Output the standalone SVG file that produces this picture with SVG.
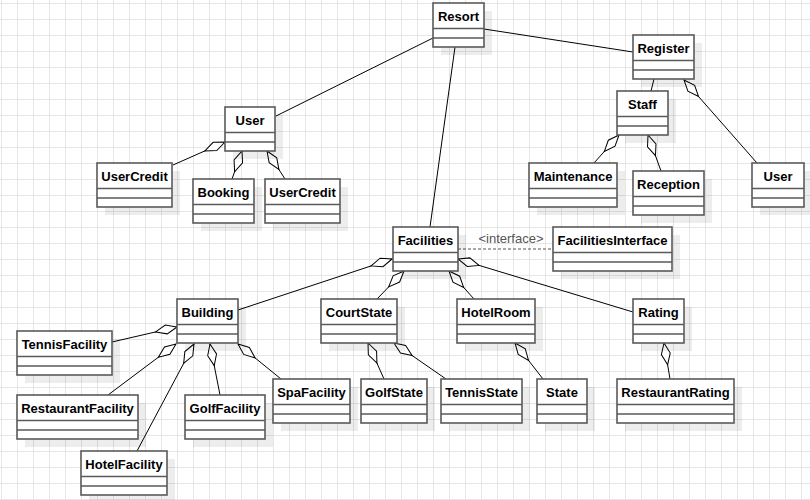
<svg xmlns="http://www.w3.org/2000/svg" width="810" height="500" viewBox="0 0 810 500">
<style>
.sh{fill:#000;opacity:0.07}
.box{fill:#fff;stroke:#5a5a5a;stroke-width:1.6}
.div{stroke:#5a5a5a;stroke-width:1.6}
.t{font-family:"Liberation Sans",Arial,sans-serif;font-size:13px;font-weight:bold;fill:#000;text-anchor:middle}
.c{fill:none;stroke:#000;stroke-width:1}
.agg{fill:none;stroke:#000;stroke-width:1;marker-start:url(#dia)}
.dash{fill:none;stroke:#555;stroke-width:1.2;stroke-dasharray:3,2}
.lbl{font-family:"Liberation Sans",Arial,sans-serif;font-size:13px;fill:#555;text-anchor:middle}
</style>
<defs>
<pattern id="grid" patternUnits="userSpaceOnUse" x="1" y="3" width="16" height="16">
<path d="M0.5,0V16M0,0.5H16" stroke="#e6e6e6" stroke-width="1" fill="none"/>
</pattern>
<marker id="dia" markerUnits="userSpaceOnUse" markerWidth="24" markerHeight="12" refX="0" refY="6" orient="auto" overflow="visible">
<path d="M0,6 L11,1.5 L22,6 L11,10.5 Z" fill="#fff" stroke="#000" stroke-width="1"/>
</marker>
</defs>
<rect width="810" height="500" fill="#fff"/>
<rect width="810" height="500" fill="url(#grid)"/>

<g id="connectors">
<path class="c" d="M433,38 L276,116"/>
<path class="c" d="M484,29 L633,52"/>
<path class="c" d="M455,47 L430,227"/>
<path class="c" d="M654,79 L651,91"/>
<path class="agg" d="M684,80 L757,163"/>
<path class="agg" d="M619,135 L594,163"/>
<path class="agg" d="M648,135 L661,171"/>
<path class="agg" d="M225,142 L173,165"/>
<path class="agg" d="M242,151 L232,179"/>
<path class="agg" d="M267,151 L285,179"/>
<path class="agg" d="M392,259 L238,310"/>
<path class="agg" d="M404,271 L377,299"/>
<path class="agg" d="M449,271 L474,299"/>
<path class="agg" d="M458,259 L633,312"/>
<path class="agg" d="M177,327 L112,342"/>
<path class="agg" d="M176,344 L108,395"/>
<path class="agg" d="M194,344 L137,451"/>
<path class="agg" d="M210,344 L220,395"/>
<path class="agg" d="M238,344 L281,379"/>
<path class="agg" d="M368,343 L384,379"/>
<path class="agg" d="M394,343 L446,379"/>
<path class="agg" d="M515,343 L543,379"/>
<path class="agg" d="M664,343 L670,379"/>
<path class="dash" d="M458,249 L553,249"/>
<text class="lbl" x="511" y="243">&lt;interface&gt;</text>
</g>

<g id="Resort"><rect class="sh" x="441" y="11" width="51" height="44"/><rect class="box" x="433" y="3" width="51" height="44"/><path class="div" d="M433,28.5H484M433,38H484"/><text class="t" x="458.5" y="20.5">Resort</text></g>
<g id="Register"><rect class="sh" x="641" y="43" width="61" height="44"/><rect class="box" x="633" y="35" width="61" height="44"/><path class="div" d="M633,60.5H694M633,70H694"/><text class="t" x="663.5" y="52.5">Register</text></g>
<g id="Staff"><rect class="sh" x="625" y="99" width="51" height="44"/><rect class="box" x="617" y="91" width="51" height="44"/><path class="div" d="M617,116.5H668M617,126H668"/><text class="t" x="642.5" y="108.5">Staff</text></g>
<g id="Maintenance"><rect class="sh" x="537" y="171" width="88" height="44"/><rect class="box" x="529" y="163" width="88" height="44"/><path class="div" d="M529,188.5H617M529,198H617"/><text class="t" x="573" y="180.5">Maintenance</text></g>
<g id="Reception"><rect class="sh" x="641" y="179" width="71" height="44"/><rect class="box" x="633" y="171" width="71" height="44"/><path class="div" d="M633,196.5H704M633,206H704"/><text class="t" x="668.5" y="188.5">Reception</text></g>
<g id="UserRight"><rect class="sh" x="760" y="171" width="52" height="44"/><rect class="box" x="752" y="163" width="52" height="44"/><path class="div" d="M752,188.5H804M752,198H804"/><text class="t" x="778" y="180.5">User</text></g>
<g id="User"><rect class="sh" x="233" y="115" width="50" height="44"/><rect class="box" x="225" y="107" width="50" height="44"/><path class="div" d="M225,132.5H275M225,142H275"/><text class="t" x="250" y="124.5">User</text></g>
<g id="UserCredit1"><rect class="sh" x="105" y="171" width="75" height="44"/><rect class="box" x="97" y="163" width="75" height="44"/><path class="div" d="M97,188.5H172M97,198H172"/><text class="t" x="134.5" y="180.5">UserCredit</text></g>
<g id="Booking"><rect class="sh" x="201" y="187" width="61" height="44"/><rect class="box" x="193" y="179" width="61" height="44"/><path class="div" d="M193,204.5H254M193,214H254"/><text class="t" x="223.5" y="196.5">Booking</text></g>
<g id="UserCredit2"><rect class="sh" x="273" y="187" width="75" height="44"/><rect class="box" x="265" y="179" width="75" height="44"/><path class="div" d="M265,204.5H340M265,214H340"/><text class="t" x="302.5" y="196.5">UserCredit</text></g>
<g id="Facilities"><rect class="sh" x="401" y="235" width="65" height="44"/><rect class="box" x="393" y="227" width="65" height="44"/><path class="div" d="M393,252.5H458M393,262H458"/><text class="t" x="425.5" y="244.5">Facilities</text></g>
<g id="FacilitiesInterface"><rect class="sh" x="561" y="235" width="119" height="44"/><rect class="box" x="553" y="227" width="119" height="44"/><path class="div" d="M553,252.5H672M553,262H672"/><text class="t" x="612.5" y="244.5">FacilitiesInterface</text></g>
<g id="Building"><rect class="sh" x="185" y="307" width="61" height="44"/><rect class="box" x="177" y="299" width="61" height="44"/><path class="div" d="M177,324.5H238M177,334H238"/><text class="t" x="207.5" y="316.5">Building</text></g>
<g id="CourtState"><rect class="sh" x="329" y="307" width="76" height="44"/><rect class="box" x="321" y="299" width="76" height="44"/><path class="div" d="M321,324.5H397M321,334H397"/><text class="t" x="359" y="316.5">CourtState</text></g>
<g id="HotelRoom"><rect class="sh" x="465" y="307" width="78" height="44"/><rect class="box" x="457" y="299" width="78" height="44"/><path class="div" d="M457,324.5H535M457,334H535"/><text class="t" x="496" y="316.5">HotelRoom</text></g>
<g id="Rating"><rect class="sh" x="641" y="307" width="51" height="44"/><rect class="box" x="633" y="299" width="51" height="44"/><path class="div" d="M633,324.5H684M633,334H684"/><text class="t" x="658.5" y="316.5">Rating</text></g>
<g id="TennisFacility"><rect class="sh" x="25" y="339" width="95" height="44"/><rect class="box" x="17" y="331" width="95" height="44"/><path class="div" d="M17,356.5H112M17,366H112"/><text class="t" x="64.5" y="348.5">TennisFacility</text></g>
<g id="RestaurantFacility"><rect class="sh" x="25" y="403" width="121" height="44"/><rect class="box" x="17" y="395" width="121" height="44"/><path class="div" d="M17,420.5H138M17,430H138"/><text class="t" x="77.5" y="412.5">RestaurantFacility</text></g>
<g id="GolfFacility"><rect class="sh" x="193" y="403" width="80" height="44"/><rect class="box" x="185" y="395" width="80" height="44"/><path class="div" d="M185,420.5H265M185,430H265"/><text class="t" x="225" y="412.5">GolfFacility</text></g>
<g id="SpaFacility"><rect class="sh" x="281" y="387" width="77" height="44"/><rect class="box" x="273" y="379" width="77" height="44"/><path class="div" d="M273,404.5H350M273,414H350"/><text class="t" x="311.5" y="396.5">SpaFacility</text></g>
<g id="HotelFacility"><rect class="sh" x="89" y="459" width="86" height="44"/><rect class="box" x="81" y="451" width="86" height="44"/><path class="div" d="M81,476.5H167M81,486H167"/><text class="t" x="124" y="468.5">HotelFacility</text></g>
<g id="GolfState"><rect class="sh" x="369" y="387" width="66" height="44"/><rect class="box" x="361" y="379" width="66" height="44"/><path class="div" d="M361,404.5H427M361,414H427"/><text class="t" x="394" y="396.5">GolfState</text></g>
<g id="TennisState"><rect class="sh" x="449" y="387" width="81" height="44"/><rect class="box" x="441" y="379" width="81" height="44"/><path class="div" d="M441,404.5H522M441,414H522"/><text class="t" x="481.5" y="396.5">TennisState</text></g>
<g id="State"><rect class="sh" x="545" y="387" width="50" height="44"/><rect class="box" x="537" y="379" width="50" height="44"/><path class="div" d="M537,404.5H587M537,414H587"/><text class="t" x="562" y="396.5">State</text></g>
<g id="RestaurantRating"><rect class="sh" x="625" y="387" width="117" height="44"/><rect class="box" x="617" y="379" width="117" height="44"/><path class="div" d="M617,404.5H734M617,414H734"/><text class="t" x="675.5" y="396.5">RestaurantRating</text></g>
</svg>
